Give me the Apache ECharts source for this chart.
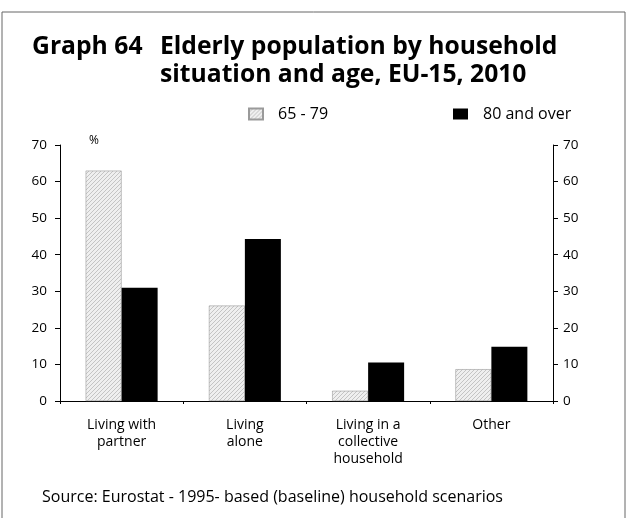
<!DOCTYPE html>
<html>
<head>
<meta charset="utf-8">
<script src="https://cdn.jsdelivr.net/npm/echarts@6/dist/echarts.min.js"></script>
<style>
  html, body { margin: 0; padding: 0; background: #fff; }
  #chart { width: 629px; height: 518px; }
</style>
</head>
<body>
<div id="chart"></div>
<script>
const categories = ['Living with\npartner', 'Living\nalone', 'Living in a\ncollective\nhousehold', 'Other']
const age65to79 = [63.0, 26.1, 2.8, 8.7]
const age80plus = [31.0, 44.3, 10.5, 14.8]
const tickValues = [0, 10, 20, 30, 40, 50, 60, 70]

const font = '"Open Sans", "DejaVu Sans", sans-serif'

// fine light diagonal hatch for the 65-79 bars
const makeHatch = () => {
  const c = document.createElement('canvas')
  c.width = 4
  c.height = 4
  const ctx = c.getContext('2d')
  ctx.fillStyle = '#efefef'
  ctx.fillRect(0, 0, 4, 4)
  ctx.strokeStyle = '#c4c4c4'
  ctx.lineWidth = 1
  ctx.beginPath()
  ctx.moveTo(0, 4)
  ctx.lineTo(4, 0)
  ctx.moveTo(-1, 1)
  ctx.lineTo(1, -1)
  ctx.moveTo(3, 5)
  ctx.lineTo(5, 3)
  ctx.stroke()
  return c
}
const hatch = { image: makeHatch(), repeat: 'repeat' }

const chart = echarts.init(document.getElementById('chart'))

const valueAxis = (position, margin) => ({
  type: 'value',
  position,
  min: tickValues[0],
  max: tickValues[tickValues.length - 1],
  interval: 10,
  splitLine: { show: false },
  axisLine: { show: true, lineStyle: { color: '#000', width: 1 } },
  axisTick: { show: true, length: 5, lineStyle: { color: '#000' } },
  axisLabel: { color: '#000', fontFamily: font, fontSize: 13.5, margin }
})

const legendText = { fontFamily: font, fontSize: 16, color: '#000', lineHeight: 16, padding: [0, 0, 0, 10] }

const option = {
  animation: false,
  backgroundColor: '#fff',
  title: [
    {
      text: 'Graph 64',
      left: 27,
      top: 28,
      textStyle: { fontFamily: font, fontWeight: 'bold', fontSize: 24.7, color: '#000', lineHeight: 28 }
    },
    {
      text: 'Elderly population by household\nsituation and age, EU-15, 2010',
      left: 155,
      top: 28,
      textStyle: { fontFamily: font, fontWeight: 'bold', fontSize: 24.7, color: '#000', lineHeight: 28 }
    },
    {
      text: '%',
      left: 84,
      top: 129,
      textStyle: { fontFamily: font, fontWeight: 'normal', fontSize: 12, color: '#000', lineHeight: 14 }
    },
    {
      text: 'Source: Eurostat - 1995- based (baseline) household scenarios',
      left: 37,
      top: 482,
      textStyle: { fontFamily: font, fontWeight: 'normal', fontSize: 16, color: '#000', lineHeight: 20 }
    }
  ],
  legend: [
    {
      data: ['65 - 79'],
      left: 243,
      top: 101,
      itemWidth: 14,
      itemHeight: 11,
      icon: 'rect',
      textStyle: legendText
    },
    {
      data: ['80 and over'],
      left: 448,
      top: 101,
      itemWidth: 15,
      itemHeight: 11,
      icon: 'rect',
      textStyle: legendText
    }
  ],
  grid: { left: 60, right: 76, top: 145, bottom: 117 },
  xAxis: {
    type: 'category',
    data: categories,
    axisLine: { lineStyle: { color: '#000', width: 1 } },
    axisTick: { show: true, length: 3, lineStyle: { color: '#000' } },
    axisLabel: { color: '#000', fontFamily: font, fontSize: 14, lineHeight: 17, margin: 16, interval: 0 }
  },
  yAxis: [valueAxis('left', 13), valueAxis('right', 10)],
  series: [
    {
      name: '65 - 79',
      type: 'bar',
      data: age65to79,
      barWidth: 36,
      barGap: '0%',
      itemStyle: { color: hatch, borderColor: '#9a9a9a', borderWidth: 0.6 }
    },
    {
      name: '80 and over',
      type: 'bar',
      data: age80plus,
      barWidth: 36,
      barGap: '0%',
      itemStyle: { color: '#000' }
    }
  ],
  graphic: [
    {
      type: 'rect',
      shape: { x: 2, y: 12, width: 623, height: 530 },
      style: { fill: 'none', stroke: '#666', lineWidth: 1 },
      silent: true
    }
  ]
}

chart.setOption(option)
</script>
</body>
</html>
